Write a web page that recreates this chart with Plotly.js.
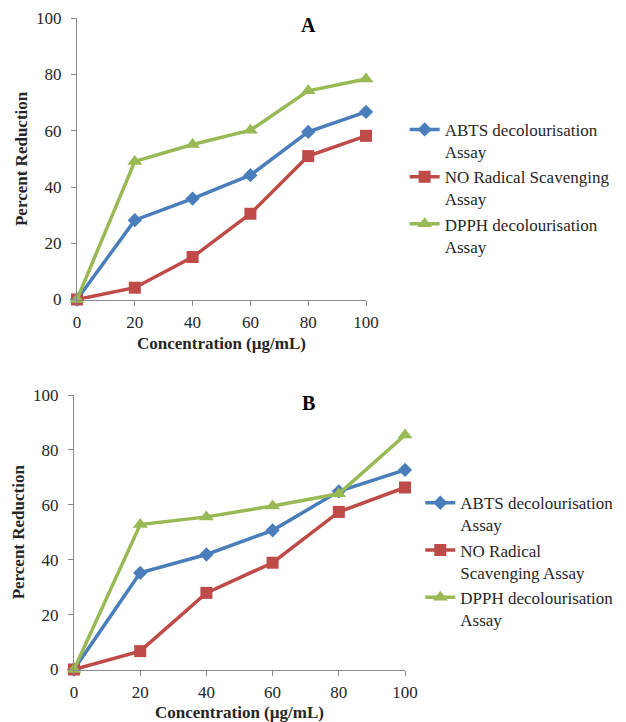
<!DOCTYPE html>
<html>
<head>
<meta charset="utf-8">
<script src="https://cdn.plot.ly/plotly-3.0.1.min.js"></script>
<style>html,body{margin:0;padding:0;background:#fff;}#chart{width:626px;height:722px;}</style>
</head>
<body>
<div id="chart"></div>
<script>
var concentration = [0, 20, 40, 60, 80, 100];
var legendLabelsA = ["ABTS decolourisation<br>Assay", "NO Radical Scavenging<br>Assay", "DPPH decolourisation<br>Assay"];
var legendLabelsB = ["ABTS decolourisation<br>Assay", "NO Radical<br>Scavenging Assay", "DPPH decolourisation<br>Assay"];

var abtsA = [0, 28.2, 35.9, 44.2, 59.6, 66.7];
var noA   = [0, 4.2, 15.1, 30.5, 51.0, 58.2];
var dpphA = [0, 49.1, 55.1, 60.2, 74.2, 78.4];

var abtsB = [0, 35.2, 41.9, 50.7, 64.9, 72.7];
var noB   = [0, 6.7, 27.9, 38.9, 57.4, 66.3];
var dpphB = [0, 52.8, 55.6, 59.6, 64.0, 85.4];

var colors = ["#4A7EBB", "#BE4B48", "#98B954"];
var symbols = ["diamond", "square", "triangle-up"];
var sizes = [11, 12, 13];

var dataA = [abtsA, noA, dpphA];
var dataB = [abtsB, noB, dpphB];
var traces = [];
for (var i = 0; i < 3; i++) {
  traces.push({
    x: concentration, y: dataA[i], name: legendLabelsA[i],
    type: "scatter", mode: "lines+markers", xaxis: "x", yaxis: "y",
    line: {color: colors[i], width: 3.5},
    marker: {color: colors[i], symbol: symbols[i], size: sizes[i]},
    cliponaxis: false, legend: "legend"
  });
}
for (var j = 0; j < 3; j++) {
  traces.push({
    x: concentration, y: dataB[j], name: legendLabelsB[j],
    type: "scatter", mode: "lines+markers", xaxis: "x2", yaxis: "y2",
    line: {color: colors[j], width: 3.5},
    marker: {color: colors[j], symbol: symbols[j], size: sizes[j]},
    cliponaxis: false, legend: "legend2"
  });
}

var serif = "Liberation Serif";
var axisCommon = {
  range: [0, 100], dtick: 20, tick0: 0, showgrid: false, zeroline: false,
  showline: true, linecolor: "#898989", linewidth: 1,
  ticks: "outside", ticklen: 5, tickcolor: "#898989",
  tickfont: {family: serif, size: 17, color: "#262626"}, fixedrange: true
};
function ax(extra) { return Object.assign({}, axisCommon, extra); }

var xTitle = {text: "<b>Concentration (µg/mL)</b>", font: {family: serif, size: 17, color: "#262626"}, standoff: 6};
var yTitle = {text: "<b>Percent Reduction</b>", font: {family: serif, size: 17, color: "#262626"}, standoff: 4};

var legendCommon = {
  font: {family: serif, size: 17, color: "#262626"},
  bgcolor: "rgba(0,0,0,0)", valign: "top", tracegroupgap: 0,
  xanchor: "left", yanchor: "top", itemclick: false
};

var layout = {
  width: 626, height: 722,
  margin: {l: 0, r: 0, t: 0, b: 0},
  font: {family: serif, size: 17, color: "#262626"},
  paper_bgcolor: "#fff", plot_bgcolor: "#fff",
  showlegend: true,
  xaxis: ax({domain: [0.123, 0.5847], anchor: "y", title: xTitle, ticklabelstandoff: 2}),
  yaxis: ax({domain: [1 - 299.5/722, 1 - 18.3/722], anchor: "x", title: yTitle, ticklabelstandoff: 6}),
  xaxis2: ax({domain: [0.1182, 0.647], anchor: "y2", title: xTitle, ticklabelstandoff: 2}),
  yaxis2: ax({domain: [1 - 669.5/722, 1 - 395/722], anchor: "x2", title: yTitle, ticklabelstandoff: 6}),
  legend: Object.assign({}, legendCommon, {x: 0.6464, y: 0.845}),
  legend2: Object.assign({}, legendCommon, {x: 0.6714, y: 0.328}),
  annotations: [
    {text: "<b>A</b>", xref: "paper", yref: "paper", x: 308/626, y: 1 - 25/722, xanchor: "center", yanchor: "middle", showarrow: false,
     font: {family: serif, size: 20, color: "#000"}},
    {text: "<b>B</b>", xref: "paper", yref: "paper", x: 308/626, y: 1 - 403/722, xanchor: "center", yanchor: "middle", showarrow: false,
     font: {family: serif, size: 20, color: "#000"}}
  ]
};

Plotly.newPlot("chart", traces, layout, {displayModeBar: false, staticPlot: true});
</script>
</body>
</html>
